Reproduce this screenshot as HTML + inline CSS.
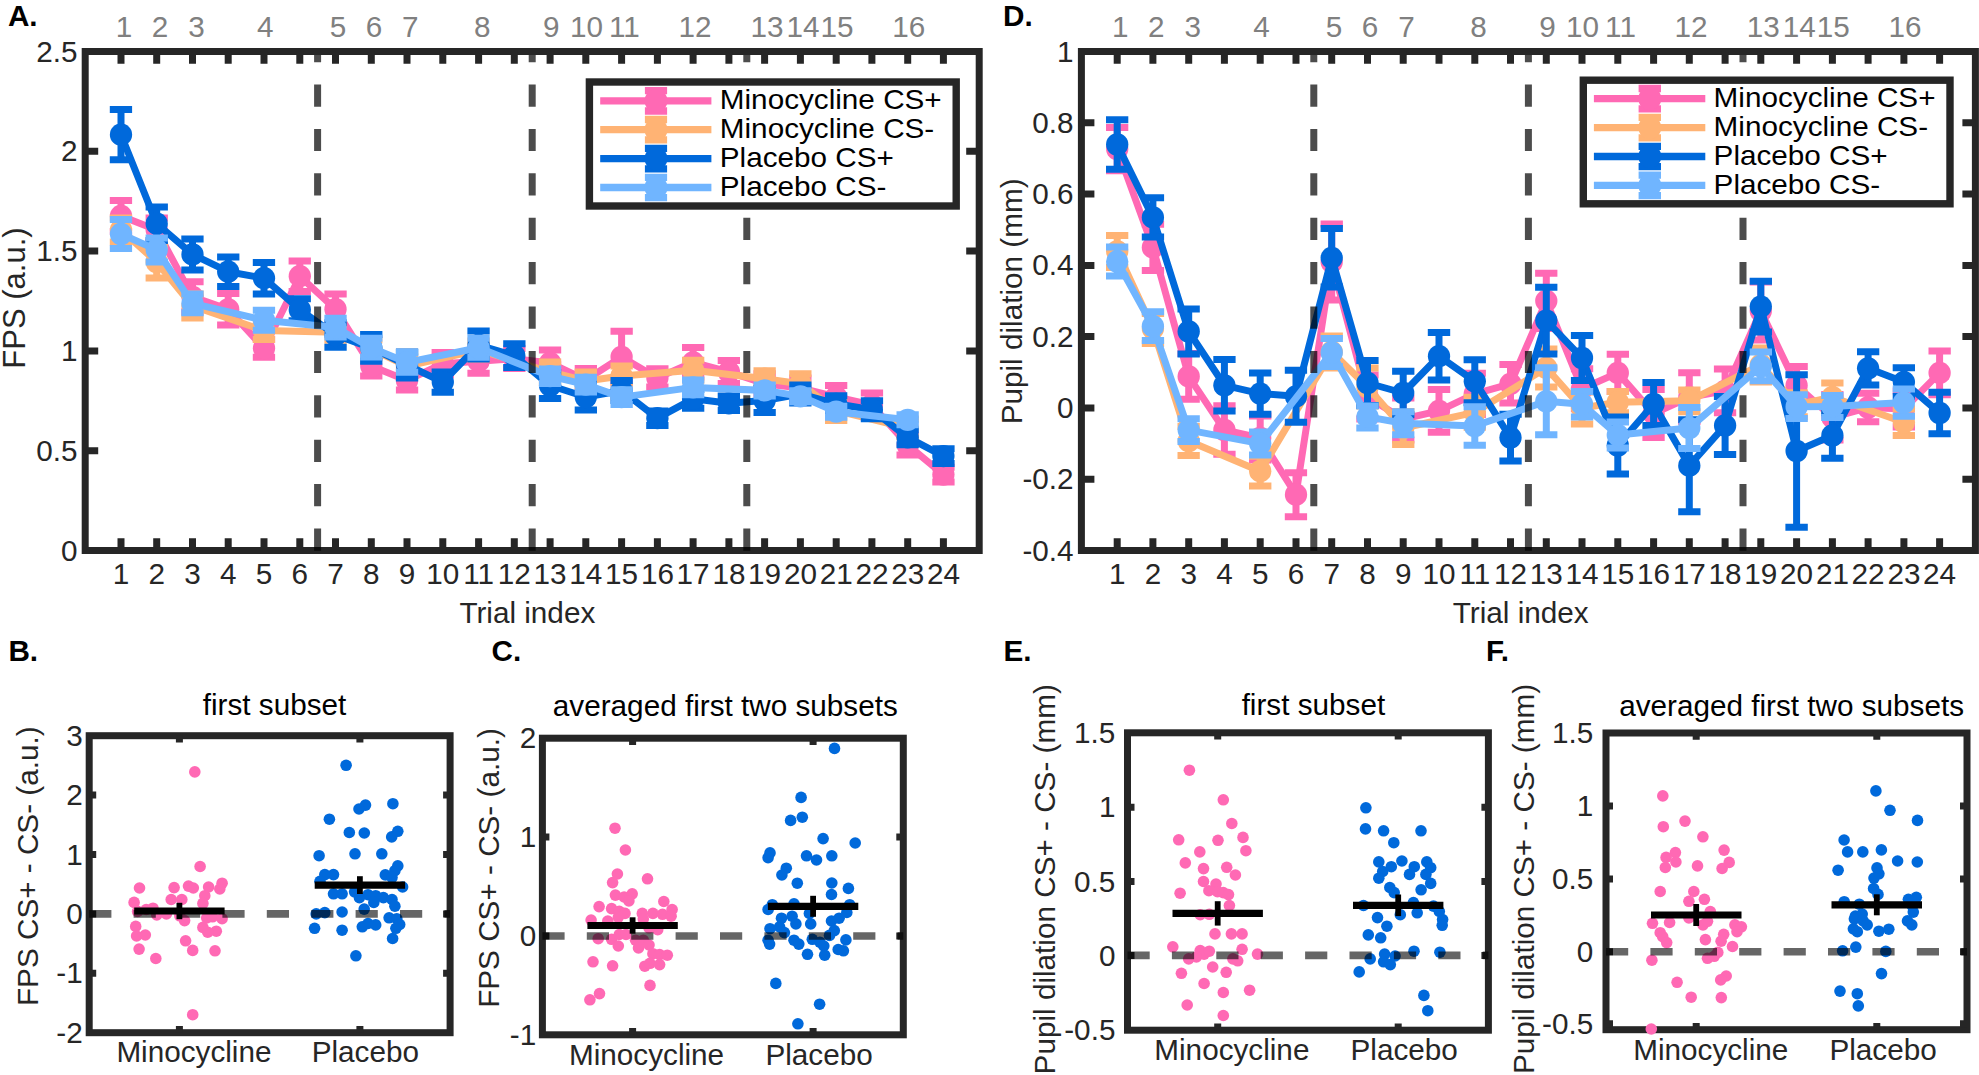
<!DOCTYPE html>
<html lang="en"><head><meta charset="utf-8"><title>Figure</title>
<style>html,body{margin:0;padding:0;background:#fff}svg{display:block}text{font-family:"Liberation Sans",Arial,Helvetica,sans-serif}</style></head><body>
<svg width="1979" height="1075" viewBox="0 0 1979 1075">
<rect width="1979" height="1075" fill="#fff"/>
<g stroke="#ff69b4" fill="#ff69b4">
<path d="M121.0 216.0 L156.7 230.0 L192.5 296.8 L228.2 309.3 L264.0 348.2 L299.8 276.2 L335.5 309.2 L371.3 366.0 L407.0 380.4 L442.8 363.7 L478.6 361.2 L514.3 358.6 L550.1 363.0 L585.8 380.0 L621.6 356.9 L657.4 377.9 L693.1 362.3 L728.9 372.0 L764.6 383.7 L800.4 388.0 L836.2 397.0 L871.9 405.0 L907.7 445.0 L943.4 474.6" fill="none" stroke-width="7.0" stroke-linejoin="round"/>
<path d="M121.0 200.6 V231.4 M109.8 200.6 H132.1 M109.8 231.4 H132.1 M156.7 218.0 V242.0 M145.6 218.0 H167.9 M145.6 242.0 H167.9 M192.5 281.8 V311.8 M181.3 281.8 H203.6 M181.3 311.8 H203.6 M228.2 293.6 V325.0 M217.1 293.6 H239.4 M217.1 325.0 H239.4 M264.0 339.2 V357.2 M252.8 339.2 H275.1 M252.8 357.2 H275.1 M299.8 260.9 V291.5 M288.6 260.9 H310.9 M288.6 291.5 H310.9 M335.5 294.0 V324.4 M324.4 294.0 H346.7 M324.4 324.4 H346.7 M371.3 356.0 V376.0 M360.1 356.0 H382.4 M360.1 376.0 H382.4 M407.0 370.9 V389.9 M395.9 370.9 H418.2 M395.9 389.9 H418.2 M442.8 352.5 V374.9 M431.6 352.5 H453.9 M431.6 374.9 H453.9 M478.6 349.2 V373.2 M467.4 349.2 H489.7 M467.4 373.2 H489.7 M514.3 348.6 V368.6 M503.2 348.6 H525.5 M503.2 368.6 H525.5 M550.1 350.0 V376.0 M538.9 350.0 H561.2 M538.9 376.0 H561.2 M585.8 368.5 V391.5 M574.7 368.5 H597.0 M574.7 391.5 H597.0 M621.6 331.2 V382.6 M610.5 331.2 H632.8 M610.5 382.6 H632.8 M657.4 368.8 V387.0 M646.2 368.8 H668.5 M646.2 387.0 H668.5 M693.1 347.6 V377.0 M682.0 347.6 H704.3 M682.0 377.0 H704.3 M728.9 360.5 V383.5 M717.7 360.5 H740.0 M717.7 383.5 H740.0 M764.6 373.7 V393.7 M753.5 373.7 H775.8 M753.5 393.7 H775.8 M800.4 378.0 V398.0 M789.2 378.0 H811.5 M789.2 398.0 H811.5 M836.2 385.5 V408.5 M825.0 385.5 H847.3 M825.0 408.5 H847.3 M871.9 393.0 V417.0 M860.8 393.0 H883.1 M860.8 417.0 H883.1 M907.7 435.0 V455.0 M896.5 435.0 H918.8 M896.5 455.0 H918.8 M943.4 467.3 V481.9 M932.3 467.3 H954.6 M932.3 481.9 H954.6" fill="none" stroke-width="7"/>
<circle cx="121.0" cy="216.0" r="11.15" stroke="none"/>
<circle cx="156.7" cy="230.0" r="11.15" stroke="none"/>
<circle cx="192.5" cy="296.8" r="11.15" stroke="none"/>
<circle cx="228.2" cy="309.3" r="11.15" stroke="none"/>
<circle cx="264.0" cy="348.2" r="11.15" stroke="none"/>
<circle cx="299.8" cy="276.2" r="11.15" stroke="none"/>
<circle cx="335.5" cy="309.2" r="11.15" stroke="none"/>
<circle cx="371.3" cy="366.0" r="11.15" stroke="none"/>
<circle cx="407.0" cy="380.4" r="11.15" stroke="none"/>
<circle cx="442.8" cy="363.7" r="11.15" stroke="none"/>
<circle cx="478.6" cy="361.2" r="11.15" stroke="none"/>
<circle cx="514.3" cy="358.6" r="11.15" stroke="none"/>
<circle cx="550.1" cy="363.0" r="11.15" stroke="none"/>
<circle cx="585.8" cy="380.0" r="11.15" stroke="none"/>
<circle cx="621.6" cy="356.9" r="11.15" stroke="none"/>
<circle cx="657.4" cy="377.9" r="11.15" stroke="none"/>
<circle cx="693.1" cy="362.3" r="11.15" stroke="none"/>
<circle cx="728.9" cy="372.0" r="11.15" stroke="none"/>
<circle cx="764.6" cy="383.7" r="11.15" stroke="none"/>
<circle cx="800.4" cy="388.0" r="11.15" stroke="none"/>
<circle cx="836.2" cy="397.0" r="11.15" stroke="none"/>
<circle cx="871.9" cy="405.0" r="11.15" stroke="none"/>
<circle cx="907.7" cy="445.0" r="11.15" stroke="none"/>
<circle cx="943.4" cy="474.6" r="11.15" stroke="none"/>
</g>
<g stroke="#ffb374" fill="#ffb374">
<path d="M121.0 230.0 L156.7 262.0 L192.5 306.0 L264.0 330.6 L335.5 332.3 L371.3 349.0 L407.0 366.0 L478.6 350.0 L550.1 372.0 L585.8 381.0 L621.6 376.0 L693.1 370.3 L764.6 378.7 L800.4 383.7 L836.2 410.5 L907.7 428.0" fill="none" stroke-width="7.0" stroke-linejoin="round"/>
<path d="M121.0 218.0 V242.0 M109.8 218.0 H132.1 M109.8 242.0 H132.1 M156.7 246.0 V278.0 M145.6 246.0 H167.9 M145.6 278.0 H167.9 M192.5 294.0 V318.0 M181.3 294.0 H203.6 M181.3 318.0 H203.6 M264.0 321.6 V339.6 M252.8 321.6 H275.1 M252.8 339.6 H275.1 M335.5 324.3 V340.3 M324.4 324.3 H346.7 M324.4 340.3 H346.7 M371.3 340.0 V358.0 M360.1 340.0 H382.4 M360.1 358.0 H382.4 M407.0 357.0 V375.0 M395.9 357.0 H418.2 M395.9 375.0 H418.2 M478.6 341.0 V359.0 M467.4 341.0 H489.7 M467.4 359.0 H489.7 M550.1 362.0 V382.0 M538.9 362.0 H561.2 M538.9 382.0 H561.2 M585.8 372.0 V390.0 M574.7 372.0 H597.0 M574.7 390.0 H597.0 M621.6 366.0 V386.0 M610.5 366.0 H632.8 M610.5 386.0 H632.8 M693.1 360.3 V380.3 M682.0 360.3 H704.3 M682.0 380.3 H704.3 M764.6 370.7 V386.7 M753.5 370.7 H775.8 M753.5 386.7 H775.8 M800.4 373.7 V393.7 M789.2 373.7 H811.5 M789.2 393.7 H811.5 M836.2 400.5 V420.5 M825.0 400.5 H847.3 M825.0 420.5 H847.3 M907.7 419.0 V437.0 M896.5 419.0 H918.8 M896.5 437.0 H918.8" fill="none" stroke-width="7"/>
<circle cx="121.0" cy="230.0" r="11.15" stroke="none"/>
<circle cx="156.7" cy="262.0" r="11.15" stroke="none"/>
<circle cx="192.5" cy="306.0" r="11.15" stroke="none"/>
<circle cx="264.0" cy="330.6" r="11.15" stroke="none"/>
<circle cx="335.5" cy="332.3" r="11.15" stroke="none"/>
<circle cx="371.3" cy="349.0" r="11.15" stroke="none"/>
<circle cx="407.0" cy="366.0" r="11.15" stroke="none"/>
<circle cx="478.6" cy="350.0" r="11.15" stroke="none"/>
<circle cx="550.1" cy="372.0" r="11.15" stroke="none"/>
<circle cx="585.8" cy="381.0" r="11.15" stroke="none"/>
<circle cx="621.6" cy="376.0" r="11.15" stroke="none"/>
<circle cx="693.1" cy="370.3" r="11.15" stroke="none"/>
<circle cx="764.6" cy="378.7" r="11.15" stroke="none"/>
<circle cx="800.4" cy="383.7" r="11.15" stroke="none"/>
<circle cx="836.2" cy="410.5" r="11.15" stroke="none"/>
<circle cx="907.7" cy="428.0" r="11.15" stroke="none"/>
</g>
<g stroke="#0069db" fill="#0069db">
<path d="M121.0 134.7 L156.7 223.7 L192.5 254.4 L228.2 271.7 L264.0 278.2 L299.8 309.7 L335.5 335.0 L371.3 347.9 L407.0 365.0 L442.8 382.1 L478.6 345.0 L514.3 355.7 L550.1 385.5 L585.8 397.0 L621.6 390.6 L657.4 418.2 L693.1 398.8 L728.9 403.3 L764.6 400.5 L800.4 394.0 L836.2 403.8 L871.9 409.7 L907.7 437.4 L943.4 456.1" fill="none" stroke-width="7.0" stroke-linejoin="round"/>
<path d="M121.0 109.6 V159.8 M109.8 109.6 H132.1 M109.8 159.8 H132.1 M156.7 206.9 V240.5 M145.6 206.9 H167.9 M145.6 240.5 H167.9 M192.5 238.9 V269.9 M181.3 238.9 H203.6 M181.3 269.9 H203.6 M228.2 257.0 V286.4 M217.1 257.0 H239.4 M217.1 286.4 H239.4 M264.0 262.5 V293.9 M252.8 262.5 H275.1 M252.8 293.9 H275.1 M299.8 298.7 V320.7 M288.6 298.7 H310.9 M288.6 320.7 H310.9 M335.5 322.8 V347.2 M324.4 322.8 H346.7 M324.4 347.2 H346.7 M371.3 334.5 V361.3 M360.1 334.5 H382.4 M360.1 361.3 H382.4 M407.0 352.0 V378.0 M395.9 352.0 H418.2 M395.9 378.0 H418.2 M442.8 372.0 V392.2 M431.6 372.0 H453.9 M431.6 392.2 H453.9 M478.6 331.0 V359.0 M467.4 331.0 H489.7 M467.4 359.0 H489.7 M514.3 343.8 V367.6 M503.2 343.8 H525.5 M503.2 367.6 H525.5 M550.1 372.5 V398.5 M538.9 372.5 H561.2 M538.9 398.5 H561.2 M585.8 384.0 V410.0 M574.7 384.0 H597.0 M574.7 410.0 H597.0 M621.6 380.6 V400.6 M610.5 380.6 H632.8 M610.5 400.6 H632.8 M657.4 410.9 V425.5 M646.2 410.9 H668.5 M646.2 425.5 H668.5 M693.1 389.4 V408.2 M682.0 389.4 H704.3 M682.0 408.2 H704.3 M728.9 396.0 V410.6 M717.7 396.0 H740.0 M717.7 410.6 H740.0 M764.6 388.5 V412.5 M753.5 388.5 H775.8 M753.5 412.5 H775.8 M800.4 385.0 V403.0 M789.2 385.0 H811.5 M789.2 403.0 H811.5 M836.2 395.8 V411.8 M825.0 395.8 H847.3 M825.0 411.8 H847.3 M871.9 400.7 V418.7 M860.8 400.7 H883.1 M860.8 418.7 H883.1 M907.7 430.1 V444.7 M896.5 430.1 H918.8 M896.5 444.7 H918.8 M943.4 448.8 V463.4 M932.3 448.8 H954.6 M932.3 463.4 H954.6" fill="none" stroke-width="7"/>
<circle cx="121.0" cy="134.7" r="11.15" stroke="none"/>
<circle cx="156.7" cy="223.7" r="11.15" stroke="none"/>
<circle cx="192.5" cy="254.4" r="11.15" stroke="none"/>
<circle cx="228.2" cy="271.7" r="11.15" stroke="none"/>
<circle cx="264.0" cy="278.2" r="11.15" stroke="none"/>
<circle cx="299.8" cy="309.7" r="11.15" stroke="none"/>
<circle cx="335.5" cy="335.0" r="11.15" stroke="none"/>
<circle cx="371.3" cy="347.9" r="11.15" stroke="none"/>
<circle cx="407.0" cy="365.0" r="11.15" stroke="none"/>
<circle cx="442.8" cy="382.1" r="11.15" stroke="none"/>
<circle cx="478.6" cy="345.0" r="11.15" stroke="none"/>
<circle cx="514.3" cy="355.7" r="11.15" stroke="none"/>
<circle cx="550.1" cy="385.5" r="11.15" stroke="none"/>
<circle cx="585.8" cy="397.0" r="11.15" stroke="none"/>
<circle cx="621.6" cy="390.6" r="11.15" stroke="none"/>
<circle cx="657.4" cy="418.2" r="11.15" stroke="none"/>
<circle cx="693.1" cy="398.8" r="11.15" stroke="none"/>
<circle cx="728.9" cy="403.3" r="11.15" stroke="none"/>
<circle cx="764.6" cy="400.5" r="11.15" stroke="none"/>
<circle cx="800.4" cy="394.0" r="11.15" stroke="none"/>
<circle cx="836.2" cy="403.8" r="11.15" stroke="none"/>
<circle cx="871.9" cy="409.7" r="11.15" stroke="none"/>
<circle cx="907.7" cy="437.4" r="11.15" stroke="none"/>
<circle cx="943.4" cy="456.1" r="11.15" stroke="none"/>
</g>
<g stroke="#70b5ff" fill="#70b5ff">
<path d="M121.0 234.0 L156.7 249.9 L192.5 303.4 L264.0 320.2 L335.5 327.6 L371.3 347.7 L407.0 362.4 L478.6 347.8 L550.1 376.2 L585.8 384.6 L621.6 397.1 L693.1 387.4 L764.6 390.4 L800.4 396.3 L836.2 411.7 L907.7 419.8" fill="none" stroke-width="7.0" stroke-linejoin="round"/>
<path d="M121.0 219.5 V248.5 M109.8 219.5 H132.1 M109.8 248.5 H132.1 M156.7 237.9 V261.9 M145.6 237.9 H167.9 M145.6 261.9 H167.9 M192.5 294.0 V312.8 M181.3 294.0 H203.6 M181.3 312.8 H203.6 M264.0 310.2 V330.2 M252.8 310.2 H275.1 M252.8 330.2 H275.1 M335.5 318.2 V337.0 M324.4 318.2 H346.7 M324.4 337.0 H346.7 M371.3 338.3 V357.1 M360.1 338.3 H382.4 M360.1 357.1 H382.4 M407.0 352.5 V372.3 M395.9 352.5 H418.2 M395.9 372.3 H418.2 M478.6 338.3 V357.3 M467.4 338.3 H489.7 M467.4 357.3 H489.7 M550.1 368.9 V383.5 M538.9 368.9 H561.2 M538.9 383.5 H561.2 M585.8 377.3 V391.9 M574.7 377.3 H597.0 M574.7 391.9 H597.0 M621.6 389.8 V404.4 M610.5 389.8 H632.8 M610.5 404.4 H632.8 M693.1 380.1 V394.7 M682.0 380.1 H704.3 M682.0 394.7 H704.3 M764.6 384.9 V395.9 M753.5 384.9 H775.8 M753.5 395.9 H775.8 M800.4 390.8 V401.8 M789.2 390.8 H811.5 M789.2 401.8 H811.5 M836.2 406.2 V417.2 M825.0 406.2 H847.3 M825.0 417.2 H847.3 M907.7 414.8 V424.8 M896.5 414.8 H918.8 M896.5 424.8 H918.8" fill="none" stroke-width="7"/>
<circle cx="121.0" cy="234.0" r="11.15" stroke="none"/>
<circle cx="156.7" cy="249.9" r="11.15" stroke="none"/>
<circle cx="192.5" cy="303.4" r="11.15" stroke="none"/>
<circle cx="264.0" cy="320.2" r="11.15" stroke="none"/>
<circle cx="335.5" cy="327.6" r="11.15" stroke="none"/>
<circle cx="371.3" cy="347.7" r="11.15" stroke="none"/>
<circle cx="407.0" cy="362.4" r="11.15" stroke="none"/>
<circle cx="478.6" cy="347.8" r="11.15" stroke="none"/>
<circle cx="550.1" cy="376.2" r="11.15" stroke="none"/>
<circle cx="585.8" cy="384.6" r="11.15" stroke="none"/>
<circle cx="621.6" cy="397.1" r="11.15" stroke="none"/>
<circle cx="693.1" cy="387.4" r="11.15" stroke="none"/>
<circle cx="764.6" cy="390.4" r="11.15" stroke="none"/>
<circle cx="800.4" cy="396.3" r="11.15" stroke="none"/>
<circle cx="836.2" cy="411.7" r="11.15" stroke="none"/>
<circle cx="907.7" cy="419.8" r="11.15" stroke="none"/>
</g>
<g stroke="#262626" stroke-width="7" fill="none">
<rect x="85.2" y="51.5" width="894.0" height="499.0"/>
<path d="M121.0 51.5 v12.3 M121.0 550.5 v-12.3 M156.7 51.5 v12.3 M156.7 550.5 v-12.3 M192.5 51.5 v12.3 M192.5 550.5 v-12.3 M228.2 51.5 v12.3 M228.2 550.5 v-12.3 M264.0 51.5 v12.3 M264.0 550.5 v-12.3 M299.8 51.5 v12.3 M299.8 550.5 v-12.3 M335.5 51.5 v12.3 M335.5 550.5 v-12.3 M371.3 51.5 v12.3 M371.3 550.5 v-12.3 M407.0 51.5 v12.3 M407.0 550.5 v-12.3 M442.8 51.5 v12.3 M442.8 550.5 v-12.3 M478.6 51.5 v12.3 M478.6 550.5 v-12.3 M514.3 51.5 v12.3 M514.3 550.5 v-12.3 M550.1 51.5 v12.3 M550.1 550.5 v-12.3 M585.8 51.5 v12.3 M585.8 550.5 v-12.3 M621.6 51.5 v12.3 M621.6 550.5 v-12.3 M657.4 51.5 v12.3 M657.4 550.5 v-12.3 M693.1 51.5 v12.3 M693.1 550.5 v-12.3 M728.9 51.5 v12.3 M728.9 550.5 v-12.3 M764.6 51.5 v12.3 M764.6 550.5 v-12.3 M800.4 51.5 v12.3 M800.4 550.5 v-12.3 M836.2 51.5 v12.3 M836.2 550.5 v-12.3 M871.9 51.5 v12.3 M871.9 550.5 v-12.3 M907.7 51.5 v12.3 M907.7 550.5 v-12.3 M943.4 51.5 v12.3 M943.4 550.5 v-12.3 M85.2 151.3 h13 M979.2 151.3 h-13 M85.2 251.1 h13 M979.2 251.1 h-13 M85.2 350.9 h13 M979.2 350.9 h-13 M85.2 450.7 h13 M979.2 450.7 h-13"/>
</g>
<g font-size="29.7" fill="#262626">
<text x="77.6" y="61.5" text-anchor="end">2.5</text>
<text x="77.6" y="161.3" text-anchor="end">2</text>
<text x="77.6" y="261.1" text-anchor="end">1.5</text>
<text x="77.6" y="360.9" text-anchor="end">1</text>
<text x="77.6" y="460.7" text-anchor="end">0.5</text>
<text x="77.6" y="560.5" text-anchor="end">0</text>
<text x="121.0" y="584.1" text-anchor="middle">1</text>
<text x="156.7" y="584.1" text-anchor="middle">2</text>
<text x="192.5" y="584.1" text-anchor="middle">3</text>
<text x="228.2" y="584.1" text-anchor="middle">4</text>
<text x="264.0" y="584.1" text-anchor="middle">5</text>
<text x="299.8" y="584.1" text-anchor="middle">6</text>
<text x="335.5" y="584.1" text-anchor="middle">7</text>
<text x="371.3" y="584.1" text-anchor="middle">8</text>
<text x="407.0" y="584.1" text-anchor="middle">9</text>
<text x="442.8" y="584.1" text-anchor="middle">10</text>
<text x="478.6" y="584.1" text-anchor="middle">11</text>
<text x="514.3" y="584.1" text-anchor="middle">12</text>
<text x="550.1" y="584.1" text-anchor="middle">13</text>
<text x="585.8" y="584.1" text-anchor="middle">14</text>
<text x="621.6" y="584.1" text-anchor="middle">15</text>
<text x="657.4" y="584.1" text-anchor="middle">16</text>
<text x="693.1" y="584.1" text-anchor="middle">17</text>
<text x="728.9" y="584.1" text-anchor="middle">18</text>
<text x="764.6" y="584.1" text-anchor="middle">19</text>
<text x="800.4" y="584.1" text-anchor="middle">20</text>
<text x="836.2" y="584.1" text-anchor="middle">21</text>
<text x="871.9" y="584.1" text-anchor="middle">22</text>
<text x="907.7" y="584.1" text-anchor="middle">23</text>
<text x="943.4" y="584.1" text-anchor="middle">24</text>
<text x="459.4" y="623.1">Trial index</text>
<text transform="translate(25.1 298) rotate(-90)" text-anchor="middle" font-size="31">FPS (a.u.)</text>
</g>
<g font-size="29.7" fill="#808080">
<text x="124.0" y="37.2" text-anchor="middle">1</text>
<text x="160.0" y="37.2" text-anchor="middle">2</text>
<text x="196.5" y="37.2" text-anchor="middle">3</text>
<text x="265.2" y="37.2" text-anchor="middle">4</text>
<text x="337.9" y="37.2" text-anchor="middle">5</text>
<text x="373.9" y="37.2" text-anchor="middle">6</text>
<text x="410.3" y="37.2" text-anchor="middle">7</text>
<text x="482.3" y="37.2" text-anchor="middle">8</text>
<text x="551.3" y="37.2" text-anchor="middle">9</text>
<text x="586.4" y="37.2" text-anchor="middle">10</text>
<text x="624.3" y="37.2" text-anchor="middle">11</text>
<text x="694.9" y="37.2" text-anchor="middle">12</text>
<text x="767.0" y="37.2" text-anchor="middle">13</text>
<text x="803.1" y="37.2" text-anchor="middle">14</text>
<text x="837.1" y="37.2" text-anchor="middle">15</text>
<text x="908.8" y="37.2" text-anchor="middle">16</text>
</g>
<text x="7.9" y="25.5" font-size="29.7" font-weight="bold" fill="#000">A.</text>
<path d="M317.6 550.7 V54.9" stroke="#000" stroke-opacity="0.7" stroke-width="7" stroke-dasharray="22.2 22.2" fill="none"/>
<path d="M532.2 550.7 V54.9" stroke="#000" stroke-opacity="0.7" stroke-width="7" stroke-dasharray="22.2 22.2" fill="none"/>
<path d="M746.8 550.7 V54.9" stroke="#000" stroke-opacity="0.7" stroke-width="7" stroke-dasharray="22.2 22.2" fill="none"/>
<rect x="589.4" y="82" width="366.8" height="124.0" fill="#fff" stroke="#262626" stroke-width="7.4"/>
<g stroke="#ff69b4" fill="#ff69b4" stroke-width="7.3"><path d="M600.2 100.8 H711.4 M656.0 90.6 V111.0 M644.9 90.6 H667.1 M644.9 111.0 H667.1" fill="none"/><circle cx="656.0" cy="100.8" r="11.5" stroke="none"/></g>
<text transform="translate(719.8 109.1) scale(1 0.925)" font-size="29.7" fill="#000">Minocycline CS+</text>
<g stroke="#ffb374" fill="#ffb374" stroke-width="7.3"><path d="M600.2 129.7 H711.4 M656.0 119.5 V139.9 M644.9 119.5 H667.1 M644.9 139.9 H667.1" fill="none"/><circle cx="656.0" cy="129.7" r="11.5" stroke="none"/></g>
<text transform="translate(719.8 138.0) scale(1 0.925)" font-size="29.7" fill="#000">Minocycline CS-</text>
<g stroke="#0069db" fill="#0069db" stroke-width="7.3"><path d="M600.2 158.6 H711.4 M656.0 148.4 V168.8 M644.9 148.4 H667.1 M644.9 168.8 H667.1" fill="none"/><circle cx="656.0" cy="158.6" r="11.5" stroke="none"/></g>
<text transform="translate(719.8 166.9) scale(1 0.925)" font-size="29.7" fill="#000">Placebo CS+</text>
<g stroke="#70b5ff" fill="#70b5ff" stroke-width="7.3"><path d="M600.2 187.5 H711.4 M656.0 177.3 V197.7 M644.9 177.3 H667.1 M644.9 197.7 H667.1" fill="none"/><circle cx="656.0" cy="187.5" r="11.5" stroke="none"/></g>
<text transform="translate(719.8 195.8) scale(1 0.925)" font-size="29.7" fill="#000">Placebo CS-</text>
<g stroke="#ff69b4" fill="#ff69b4">
<path d="M1117.2 149.1 L1152.9 247.4 L1188.7 376.4 L1224.4 430.0 L1260.2 438.0 L1296.0 494.7 L1331.7 262.0 L1367.5 397.0 L1403.2 419.0 L1439.0 410.8 L1474.8 393.8 L1510.5 383.8 L1546.3 300.8 L1582.0 388.8 L1617.8 372.9 L1653.6 413.6 L1689.3 397.2 L1725.1 390.9 L1760.8 311.0 L1796.6 385.5 L1832.4 417.3 L1868.1 407.5 L1903.9 409.0 L1939.6 372.9" fill="none" stroke-width="7.0" stroke-linejoin="round"/>
<path d="M1117.2 127.4 V170.8 M1106.0 127.4 H1128.3 M1106.0 170.8 H1128.3 M1152.9 224.2 V270.6 M1141.8 224.2 H1164.1 M1141.8 270.6 H1164.1 M1188.7 353.5 V399.3 M1177.5 353.5 H1199.8 M1177.5 399.3 H1199.8 M1224.4 405.8 V454.2 M1213.3 405.8 H1235.6 M1213.3 454.2 H1235.6 M1260.2 416.0 V460.0 M1249.0 416.0 H1271.4 M1249.0 460.0 H1271.4 M1296.0 472.7 V516.7 M1284.8 472.7 H1307.1 M1284.8 516.7 H1307.1 M1331.7 224.0 V300.0 M1320.6 224.0 H1342.9 M1320.6 300.0 H1342.9 M1367.5 375.0 V419.0 M1356.3 375.0 H1378.6 M1356.3 419.0 H1378.6 M1403.2 398.0 V440.0 M1392.1 398.0 H1414.4 M1392.1 440.0 H1414.4 M1439.0 389.4 V432.2 M1427.8 389.4 H1450.2 M1427.8 432.2 H1450.2 M1474.8 373.2 V414.4 M1463.6 373.2 H1485.9 M1463.6 414.4 H1485.9 M1510.5 364.5 V403.1 M1499.4 364.5 H1521.7 M1499.4 403.1 H1521.7 M1546.3 273.2 V328.4 M1535.1 273.2 H1557.4 M1535.1 328.4 H1557.4 M1582.0 368.8 V408.8 M1570.9 368.8 H1593.2 M1570.9 408.8 H1593.2 M1617.8 354.3 V391.5 M1606.7 354.3 H1629.0 M1606.7 391.5 H1629.0 M1653.6 389.6 V437.6 M1642.4 389.6 H1664.7 M1642.4 437.6 H1664.7 M1689.3 372.8 V421.6 M1678.2 372.8 H1700.5 M1678.2 421.6 H1700.5 M1725.1 369.0 V412.8 M1713.9 369.0 H1736.2 M1713.9 412.8 H1736.2 M1760.8 282.0 V340.0 M1749.7 282.0 H1772.0 M1749.7 340.0 H1772.0 M1796.6 366.5 V404.5 M1785.4 366.5 H1807.8 M1785.4 404.5 H1807.8 M1832.4 394.5 V440.1 M1821.2 394.5 H1843.5 M1821.2 440.1 H1843.5 M1868.1 393.3 V421.7 M1857.0 393.3 H1879.3 M1857.0 421.7 H1879.3 M1903.9 391.0 V427.0 M1892.7 391.0 H1915.0 M1892.7 427.0 H1915.0 M1939.6 351.1 V394.7 M1928.5 351.1 H1950.8 M1928.5 394.7 H1950.8" fill="none" stroke-width="7"/>
<circle cx="1117.2" cy="149.1" r="11.15" stroke="none"/>
<circle cx="1152.9" cy="247.4" r="11.15" stroke="none"/>
<circle cx="1188.7" cy="376.4" r="11.15" stroke="none"/>
<circle cx="1224.4" cy="430.0" r="11.15" stroke="none"/>
<circle cx="1260.2" cy="438.0" r="11.15" stroke="none"/>
<circle cx="1296.0" cy="494.7" r="11.15" stroke="none"/>
<circle cx="1331.7" cy="262.0" r="11.15" stroke="none"/>
<circle cx="1367.5" cy="397.0" r="11.15" stroke="none"/>
<circle cx="1403.2" cy="419.0" r="11.15" stroke="none"/>
<circle cx="1439.0" cy="410.8" r="11.15" stroke="none"/>
<circle cx="1474.8" cy="393.8" r="11.15" stroke="none"/>
<circle cx="1510.5" cy="383.8" r="11.15" stroke="none"/>
<circle cx="1546.3" cy="300.8" r="11.15" stroke="none"/>
<circle cx="1582.0" cy="388.8" r="11.15" stroke="none"/>
<circle cx="1617.8" cy="372.9" r="11.15" stroke="none"/>
<circle cx="1653.6" cy="413.6" r="11.15" stroke="none"/>
<circle cx="1689.3" cy="397.2" r="11.15" stroke="none"/>
<circle cx="1725.1" cy="390.9" r="11.15" stroke="none"/>
<circle cx="1760.8" cy="311.0" r="11.15" stroke="none"/>
<circle cx="1796.6" cy="385.5" r="11.15" stroke="none"/>
<circle cx="1832.4" cy="417.3" r="11.15" stroke="none"/>
<circle cx="1868.1" cy="407.5" r="11.15" stroke="none"/>
<circle cx="1903.9" cy="409.0" r="11.15" stroke="none"/>
<circle cx="1939.6" cy="372.9" r="11.15" stroke="none"/>
</g>
<g stroke="#ffb374" fill="#ffb374">
<path d="M1117.2 251.4 L1152.9 328.5 L1188.7 441.1 L1260.2 471.2 L1331.7 352.0 L1367.5 387.0 L1403.2 428.0 L1474.8 412.3 L1546.3 367.9 L1582.0 408.0 L1617.8 402.2 L1689.3 400.8 L1760.8 365.0 L1796.6 404.7 L1832.4 397.2 L1903.9 422.3" fill="none" stroke-width="7.0" stroke-linejoin="round"/>
<path d="M1117.2 235.4 V267.4 M1106.0 235.4 H1128.3 M1106.0 267.4 H1128.3 M1152.9 313.5 V343.5 M1141.8 313.5 H1164.1 M1141.8 343.5 H1164.1 M1188.7 426.6 V455.6 M1177.5 426.6 H1199.8 M1177.5 455.6 H1199.8 M1260.2 456.3 V486.1 M1249.0 456.3 H1271.4 M1249.0 486.1 H1271.4 M1331.7 336.0 V368.0 M1320.6 336.0 H1342.9 M1320.6 368.0 H1342.9 M1367.5 368.0 V406.0 M1356.3 368.0 H1378.6 M1356.3 406.0 H1378.6 M1403.2 411.5 V444.5 M1392.1 411.5 H1414.4 M1392.1 444.5 H1414.4 M1474.8 397.3 V427.3 M1463.6 397.3 H1485.9 M1463.6 427.3 H1485.9 M1546.3 348.9 V386.9 M1535.1 348.9 H1557.4 M1535.1 386.9 H1557.4 M1582.0 392.0 V424.0 M1570.9 392.0 H1593.2 M1570.9 424.0 H1593.2 M1617.8 391.6 V412.8 M1606.7 391.6 H1629.0 M1606.7 412.8 H1629.0 M1689.3 389.9 V411.7 M1678.2 389.9 H1700.5 M1678.2 411.7 H1700.5 M1760.8 348.0 V382.0 M1749.7 348.0 H1772.0 M1749.7 382.0 H1772.0 M1796.6 392.7 V416.7 M1785.4 392.7 H1807.8 M1785.4 416.7 H1807.8 M1832.4 382.9 V411.5 M1821.2 382.9 H1843.5 M1821.2 411.5 H1843.5 M1903.9 409.1 V435.5 M1892.7 409.1 H1915.0 M1892.7 435.5 H1915.0" fill="none" stroke-width="7"/>
<circle cx="1117.2" cy="251.4" r="11.15" stroke="none"/>
<circle cx="1152.9" cy="328.5" r="11.15" stroke="none"/>
<circle cx="1188.7" cy="441.1" r="11.15" stroke="none"/>
<circle cx="1260.2" cy="471.2" r="11.15" stroke="none"/>
<circle cx="1331.7" cy="352.0" r="11.15" stroke="none"/>
<circle cx="1367.5" cy="387.0" r="11.15" stroke="none"/>
<circle cx="1403.2" cy="428.0" r="11.15" stroke="none"/>
<circle cx="1474.8" cy="412.3" r="11.15" stroke="none"/>
<circle cx="1546.3" cy="367.9" r="11.15" stroke="none"/>
<circle cx="1582.0" cy="408.0" r="11.15" stroke="none"/>
<circle cx="1617.8" cy="402.2" r="11.15" stroke="none"/>
<circle cx="1689.3" cy="400.8" r="11.15" stroke="none"/>
<circle cx="1760.8" cy="365.0" r="11.15" stroke="none"/>
<circle cx="1796.6" cy="404.7" r="11.15" stroke="none"/>
<circle cx="1832.4" cy="397.2" r="11.15" stroke="none"/>
<circle cx="1903.9" cy="422.3" r="11.15" stroke="none"/>
</g>
<g stroke="#0069db" fill="#0069db">
<path d="M1117.2 144.5 L1152.9 217.4 L1188.7 331.5 L1224.4 385.3 L1260.2 393.6 L1296.0 396.3 L1331.7 257.8 L1367.5 383.0 L1403.2 393.0 L1439.0 356.2 L1474.8 381.3 L1510.5 437.6 L1546.3 320.6 L1582.0 358.0 L1617.8 445.5 L1653.6 404.0 L1689.3 465.7 L1725.1 425.5 L1760.8 306.6 L1796.6 451.0 L1832.4 435.5 L1868.1 368.3 L1903.9 382.1 L1939.6 413.0" fill="none" stroke-width="7.0" stroke-linejoin="round"/>
<path d="M1117.2 119.8 V169.2 M1106.0 119.8 H1128.3 M1106.0 169.2 H1128.3 M1152.9 197.8 V237.0 M1141.8 197.8 H1164.1 M1141.8 237.0 H1164.1 M1188.7 308.9 V354.1 M1177.5 308.9 H1199.8 M1177.5 354.1 H1199.8 M1224.4 359.6 V411.0 M1213.3 359.6 H1235.6 M1213.3 411.0 H1235.6 M1260.2 372.9 V414.3 M1249.0 372.9 H1271.4 M1249.0 414.3 H1271.4 M1296.0 370.3 V422.3 M1284.8 370.3 H1307.1 M1284.8 422.3 H1307.1 M1331.7 228.5 V287.1 M1320.6 228.5 H1342.9 M1320.6 287.1 H1342.9 M1367.5 360.6 V405.4 M1356.3 360.6 H1378.6 M1356.3 405.4 H1378.6 M1403.2 371.2 V414.8 M1392.1 371.2 H1414.4 M1392.1 414.8 H1414.4 M1439.0 332.5 V379.9 M1427.8 332.5 H1450.2 M1427.8 379.9 H1450.2 M1474.8 359.8 V402.8 M1463.6 359.8 H1485.9 M1463.6 402.8 H1485.9 M1510.5 414.2 V461.0 M1499.4 414.2 H1521.7 M1499.4 461.0 H1521.7 M1546.3 287.3 V353.9 M1535.1 287.3 H1557.4 M1535.1 353.9 H1557.4 M1582.0 335.5 V380.5 M1570.9 335.5 H1593.2 M1570.9 380.5 H1593.2 M1617.8 417.1 V473.9 M1606.7 417.1 H1629.0 M1606.7 473.9 H1629.0 M1653.6 382.5 V425.5 M1642.4 382.5 H1664.7 M1642.4 425.5 H1664.7 M1689.3 419.7 V511.7 M1678.2 419.7 H1700.5 M1678.2 511.7 H1700.5 M1725.1 396.5 V454.5 M1713.9 396.5 H1736.2 M1713.9 454.5 H1736.2 M1760.8 281.2 V332.0 M1749.7 281.2 H1772.0 M1749.7 332.0 H1772.0 M1796.6 374.8 V527.2 M1785.4 374.8 H1807.8 M1785.4 527.2 H1807.8 M1832.4 412.8 V458.2 M1821.2 412.8 H1843.5 M1821.2 458.2 H1843.5 M1868.1 351.7 V384.9 M1857.0 351.7 H1879.3 M1857.0 384.9 H1879.3 M1903.9 367.8 V396.4 M1892.7 367.8 H1915.0 M1892.7 396.4 H1915.0 M1939.6 392.2 V433.8 M1928.5 392.2 H1950.8 M1928.5 433.8 H1950.8" fill="none" stroke-width="7"/>
<circle cx="1117.2" cy="144.5" r="11.15" stroke="none"/>
<circle cx="1152.9" cy="217.4" r="11.15" stroke="none"/>
<circle cx="1188.7" cy="331.5" r="11.15" stroke="none"/>
<circle cx="1224.4" cy="385.3" r="11.15" stroke="none"/>
<circle cx="1260.2" cy="393.6" r="11.15" stroke="none"/>
<circle cx="1296.0" cy="396.3" r="11.15" stroke="none"/>
<circle cx="1331.7" cy="257.8" r="11.15" stroke="none"/>
<circle cx="1367.5" cy="383.0" r="11.15" stroke="none"/>
<circle cx="1403.2" cy="393.0" r="11.15" stroke="none"/>
<circle cx="1439.0" cy="356.2" r="11.15" stroke="none"/>
<circle cx="1474.8" cy="381.3" r="11.15" stroke="none"/>
<circle cx="1510.5" cy="437.6" r="11.15" stroke="none"/>
<circle cx="1546.3" cy="320.6" r="11.15" stroke="none"/>
<circle cx="1582.0" cy="358.0" r="11.15" stroke="none"/>
<circle cx="1617.8" cy="445.5" r="11.15" stroke="none"/>
<circle cx="1653.6" cy="404.0" r="11.15" stroke="none"/>
<circle cx="1689.3" cy="465.7" r="11.15" stroke="none"/>
<circle cx="1725.1" cy="425.5" r="11.15" stroke="none"/>
<circle cx="1760.8" cy="306.6" r="11.15" stroke="none"/>
<circle cx="1796.6" cy="451.0" r="11.15" stroke="none"/>
<circle cx="1832.4" cy="435.5" r="11.15" stroke="none"/>
<circle cx="1868.1" cy="368.3" r="11.15" stroke="none"/>
<circle cx="1903.9" cy="382.1" r="11.15" stroke="none"/>
<circle cx="1939.6" cy="413.0" r="11.15" stroke="none"/>
</g>
<g stroke="#70b5ff" fill="#70b5ff">
<path d="M1117.2 261.5 L1152.9 326.2 L1188.7 430.1 L1260.2 443.6 L1331.7 352.5 L1367.5 416.9 L1403.2 423.3 L1474.8 426.0 L1546.3 401.3 L1582.0 404.2 L1617.8 435.1 L1689.3 428.0 L1760.8 366.3 L1796.6 406.7 L1832.4 406.4 L1903.9 402.6" fill="none" stroke-width="7.0" stroke-linejoin="round"/>
<path d="M1117.2 247.1 V275.9 M1106.0 247.1 H1128.3 M1106.0 275.9 H1128.3 M1152.9 311.8 V340.6 M1141.8 311.8 H1164.1 M1141.8 340.6 H1164.1 M1188.7 418.8 V441.4 M1177.5 418.8 H1199.8 M1177.5 441.4 H1199.8 M1260.2 432.1 V455.1 M1249.0 432.1 H1271.4 M1249.0 455.1 H1271.4 M1331.7 338.6 V366.4 M1320.6 338.6 H1342.9 M1320.6 366.4 H1342.9 M1367.5 405.9 V427.9 M1356.3 405.9 H1378.6 M1356.3 427.9 H1378.6 M1403.2 411.8 V434.8 M1392.1 411.8 H1414.4 M1392.1 434.8 H1414.4 M1474.8 406.7 V445.3 M1463.6 406.7 H1485.9 M1463.6 445.3 H1485.9 M1546.3 367.8 V434.8 M1535.1 367.8 H1557.4 M1535.1 434.8 H1557.4 M1582.0 391.5 V416.9 M1570.9 391.5 H1593.2 M1570.9 416.9 H1593.2 M1617.8 422.1 V448.1 M1606.7 422.1 H1629.0 M1606.7 448.1 H1629.0 M1689.3 407.5 V448.5 M1678.2 407.5 H1700.5 M1678.2 448.5 H1700.5 M1760.8 351.9 V380.7 M1749.7 351.9 H1772.0 M1749.7 380.7 H1772.0 M1796.6 394.8 V418.6 M1785.4 394.8 H1807.8 M1785.4 418.6 H1807.8 M1832.4 395.4 V417.4 M1821.2 395.4 H1843.5 M1821.2 417.4 H1843.5 M1903.9 389.0 V416.2 M1892.7 389.0 H1915.0 M1892.7 416.2 H1915.0" fill="none" stroke-width="7"/>
<circle cx="1117.2" cy="261.5" r="11.15" stroke="none"/>
<circle cx="1152.9" cy="326.2" r="11.15" stroke="none"/>
<circle cx="1188.7" cy="430.1" r="11.15" stroke="none"/>
<circle cx="1260.2" cy="443.6" r="11.15" stroke="none"/>
<circle cx="1331.7" cy="352.5" r="11.15" stroke="none"/>
<circle cx="1367.5" cy="416.9" r="11.15" stroke="none"/>
<circle cx="1403.2" cy="423.3" r="11.15" stroke="none"/>
<circle cx="1474.8" cy="426.0" r="11.15" stroke="none"/>
<circle cx="1546.3" cy="401.3" r="11.15" stroke="none"/>
<circle cx="1582.0" cy="404.2" r="11.15" stroke="none"/>
<circle cx="1617.8" cy="435.1" r="11.15" stroke="none"/>
<circle cx="1689.3" cy="428.0" r="11.15" stroke="none"/>
<circle cx="1760.8" cy="366.3" r="11.15" stroke="none"/>
<circle cx="1796.6" cy="406.7" r="11.15" stroke="none"/>
<circle cx="1832.4" cy="406.4" r="11.15" stroke="none"/>
<circle cx="1903.9" cy="402.6" r="11.15" stroke="none"/>
</g>
<g stroke="#262626" stroke-width="7" fill="none">
<rect x="1081.4" y="51.5" width="894.0" height="499.0"/>
<path d="M1117.2 51.5 v12.3 M1117.2 550.5 v-12.3 M1152.9 51.5 v12.3 M1152.9 550.5 v-12.3 M1188.7 51.5 v12.3 M1188.7 550.5 v-12.3 M1224.4 51.5 v12.3 M1224.4 550.5 v-12.3 M1260.2 51.5 v12.3 M1260.2 550.5 v-12.3 M1296.0 51.5 v12.3 M1296.0 550.5 v-12.3 M1331.7 51.5 v12.3 M1331.7 550.5 v-12.3 M1367.5 51.5 v12.3 M1367.5 550.5 v-12.3 M1403.2 51.5 v12.3 M1403.2 550.5 v-12.3 M1439.0 51.5 v12.3 M1439.0 550.5 v-12.3 M1474.8 51.5 v12.3 M1474.8 550.5 v-12.3 M1510.5 51.5 v12.3 M1510.5 550.5 v-12.3 M1546.3 51.5 v12.3 M1546.3 550.5 v-12.3 M1582.0 51.5 v12.3 M1582.0 550.5 v-12.3 M1617.8 51.5 v12.3 M1617.8 550.5 v-12.3 M1653.6 51.5 v12.3 M1653.6 550.5 v-12.3 M1689.3 51.5 v12.3 M1689.3 550.5 v-12.3 M1725.1 51.5 v12.3 M1725.1 550.5 v-12.3 M1760.8 51.5 v12.3 M1760.8 550.5 v-12.3 M1796.6 51.5 v12.3 M1796.6 550.5 v-12.3 M1832.4 51.5 v12.3 M1832.4 550.5 v-12.3 M1868.1 51.5 v12.3 M1868.1 550.5 v-12.3 M1903.9 51.5 v12.3 M1903.9 550.5 v-12.3 M1939.6 51.5 v12.3 M1939.6 550.5 v-12.3 M1081.4 122.8 h13 M1975.4 122.8 h-13 M1081.4 194.1 h13 M1975.4 194.1 h-13 M1081.4 265.4 h13 M1975.4 265.4 h-13 M1081.4 336.6 h13 M1975.4 336.6 h-13 M1081.4 407.9 h13 M1975.4 407.9 h-13 M1081.4 479.2 h13 M1975.4 479.2 h-13"/>
</g>
<g font-size="29.7" fill="#262626">
<text x="1073.6" y="61.5" text-anchor="end">1</text>
<text x="1073.6" y="132.8" text-anchor="end">0.8</text>
<text x="1073.6" y="204.1" text-anchor="end">0.6</text>
<text x="1073.6" y="275.4" text-anchor="end">0.4</text>
<text x="1073.6" y="346.6" text-anchor="end">0.2</text>
<text x="1073.6" y="417.9" text-anchor="end">0</text>
<text x="1073.6" y="489.2" text-anchor="end">-0.2</text>
<text x="1073.6" y="560.5" text-anchor="end">-0.4</text>
<text x="1117.2" y="584.1" text-anchor="middle">1</text>
<text x="1152.9" y="584.1" text-anchor="middle">2</text>
<text x="1188.7" y="584.1" text-anchor="middle">3</text>
<text x="1224.4" y="584.1" text-anchor="middle">4</text>
<text x="1260.2" y="584.1" text-anchor="middle">5</text>
<text x="1296.0" y="584.1" text-anchor="middle">6</text>
<text x="1331.7" y="584.1" text-anchor="middle">7</text>
<text x="1367.5" y="584.1" text-anchor="middle">8</text>
<text x="1403.2" y="584.1" text-anchor="middle">9</text>
<text x="1439.0" y="584.1" text-anchor="middle">10</text>
<text x="1474.8" y="584.1" text-anchor="middle">11</text>
<text x="1510.5" y="584.1" text-anchor="middle">12</text>
<text x="1546.3" y="584.1" text-anchor="middle">13</text>
<text x="1582.0" y="584.1" text-anchor="middle">14</text>
<text x="1617.8" y="584.1" text-anchor="middle">15</text>
<text x="1653.6" y="584.1" text-anchor="middle">16</text>
<text x="1689.3" y="584.1" text-anchor="middle">17</text>
<text x="1725.1" y="584.1" text-anchor="middle">18</text>
<text x="1760.8" y="584.1" text-anchor="middle">19</text>
<text x="1796.6" y="584.1" text-anchor="middle">20</text>
<text x="1832.4" y="584.1" text-anchor="middle">21</text>
<text x="1868.1" y="584.1" text-anchor="middle">22</text>
<text x="1903.9" y="584.1" text-anchor="middle">23</text>
<text x="1939.6" y="584.1" text-anchor="middle">24</text>
<text x="1452.8" y="623.1">Trial index</text>
<text transform="translate(1021.8 301.4) rotate(-90)" text-anchor="middle" font-size="29.7">Pupil dilation (mm)</text>
</g>
<g font-size="29.7" fill="#808080">
<text x="1120.2" y="37.2" text-anchor="middle">1</text>
<text x="1156.2" y="37.2" text-anchor="middle">2</text>
<text x="1192.7" y="37.2" text-anchor="middle">3</text>
<text x="1261.4" y="37.2" text-anchor="middle">4</text>
<text x="1334.1" y="37.2" text-anchor="middle">5</text>
<text x="1370.1" y="37.2" text-anchor="middle">6</text>
<text x="1406.5" y="37.2" text-anchor="middle">7</text>
<text x="1478.5" y="37.2" text-anchor="middle">8</text>
<text x="1547.5" y="37.2" text-anchor="middle">9</text>
<text x="1582.6" y="37.2" text-anchor="middle">10</text>
<text x="1620.5" y="37.2" text-anchor="middle">11</text>
<text x="1691.1" y="37.2" text-anchor="middle">12</text>
<text x="1763.2" y="37.2" text-anchor="middle">13</text>
<text x="1799.3" y="37.2" text-anchor="middle">14</text>
<text x="1833.3" y="37.2" text-anchor="middle">15</text>
<text x="1905.0" y="37.2" text-anchor="middle">16</text>
</g>
<text x="1003" y="25.5" font-size="29.7" font-weight="bold" fill="#000">D.</text>
<path d="M1313.8 550.7 V54.9" stroke="#000" stroke-opacity="0.7" stroke-width="7" stroke-dasharray="22.2 22.2" fill="none"/>
<path d="M1528.4 550.7 V54.9" stroke="#000" stroke-opacity="0.7" stroke-width="7" stroke-dasharray="22.2 22.2" fill="none"/>
<path d="M1743.0 550.7 V54.9" stroke="#000" stroke-opacity="0.7" stroke-width="7" stroke-dasharray="22.2 22.2" fill="none"/>
<rect x="1583.3" y="80.2" width="366.7" height="123.6" fill="#fff" stroke="#262626" stroke-width="7.4"/>
<g stroke="#ff69b4" fill="#ff69b4" stroke-width="7.3"><path d="M1593.9 98.7 H1705.3 M1649.8 88.5 V108.9 M1638.6 88.5 H1661.0 M1638.6 108.9 H1661.0" fill="none"/><circle cx="1649.8" cy="98.7" r="11.5" stroke="none"/></g>
<text transform="translate(1713.6 107.0) scale(1 0.925)" font-size="29.7" fill="#000">Minocycline CS+</text>
<g stroke="#ffb374" fill="#ffb374" stroke-width="7.3"><path d="M1593.9 127.6 H1705.3 M1649.8 117.4 V137.8 M1638.6 117.4 H1661.0 M1638.6 137.8 H1661.0" fill="none"/><circle cx="1649.8" cy="127.6" r="11.5" stroke="none"/></g>
<text transform="translate(1713.6 135.9) scale(1 0.925)" font-size="29.7" fill="#000">Minocycline CS-</text>
<g stroke="#0069db" fill="#0069db" stroke-width="7.3"><path d="M1593.9 156.5 H1705.3 M1649.8 146.3 V166.7 M1638.6 146.3 H1661.0 M1638.6 166.7 H1661.0" fill="none"/><circle cx="1649.8" cy="156.5" r="11.5" stroke="none"/></g>
<text transform="translate(1713.6 164.8) scale(1 0.925)" font-size="29.7" fill="#000">Placebo CS+</text>
<g stroke="#70b5ff" fill="#70b5ff" stroke-width="7.3"><path d="M1593.9 185.4 H1705.3 M1649.8 175.2 V195.6 M1638.6 175.2 H1661.0 M1638.6 195.6 H1661.0" fill="none"/><circle cx="1649.8" cy="185.4" r="11.5" stroke="none"/></g>
<text transform="translate(1713.6 193.7) scale(1 0.925)" font-size="29.7" fill="#000">Placebo CS-</text>
<g fill="#ff69b4"><circle cx="194.8" cy="771.9" r="5.8"/><circle cx="200.1" cy="866.5" r="5.8"/><circle cx="139.5" cy="888.0" r="5.8"/><circle cx="174.1" cy="887.6" r="5.8"/><circle cx="188.5" cy="886.1" r="5.8"/><circle cx="193.3" cy="888.0" r="5.8"/><circle cx="208.6" cy="887.0" r="5.8"/><circle cx="222.1" cy="883.2" r="5.8"/><circle cx="219.8" cy="889.0" r="5.8"/><circle cx="204.8" cy="895.7" r="5.8"/><circle cx="171.2" cy="899.5" r="5.8"/><circle cx="181.8" cy="899.5" r="5.8"/><circle cx="134.1" cy="902.4" r="5.8"/><circle cx="202.9" cy="903.4" r="5.8"/><circle cx="146.2" cy="909.5" r="5.8"/><circle cx="153.0" cy="908.2" r="5.8"/><circle cx="137.6" cy="911.4" r="5.8"/><circle cx="156.8" cy="914.9" r="5.8"/><circle cx="166.4" cy="913.9" r="5.8"/><circle cx="184.6" cy="920.6" r="5.8"/><circle cx="179.8" cy="915.8" r="5.8"/><circle cx="206.7" cy="917.8" r="5.8"/><circle cx="212.5" cy="916.8" r="5.8"/><circle cx="222.1" cy="918.7" r="5.8"/><circle cx="135.7" cy="926.4" r="5.8"/><circle cx="202.9" cy="927.4" r="5.8"/><circle cx="216.3" cy="931.2" r="5.8"/><circle cx="207.7" cy="932.2" r="5.8"/><circle cx="145.3" cy="935.0" r="5.8"/><circle cx="136.6" cy="936.0" r="5.8"/><circle cx="185.6" cy="940.8" r="5.8"/><circle cx="139.1" cy="949.1" r="5.8"/><circle cx="192.7" cy="950.4" r="5.8"/><circle cx="215.0" cy="950.8" r="5.8"/><circle cx="155.8" cy="958.5" r="5.8"/><circle cx="192.7" cy="1014.7" r="5.8"/></g>
<g fill="#0069db"><circle cx="346.1" cy="765.3" r="5.8"/><circle cx="392.9" cy="803.7" r="5.8"/><circle cx="365.5" cy="805.1" r="5.8"/><circle cx="359.0" cy="809.0" r="5.8"/><circle cx="329.4" cy="819.2" r="5.8"/><circle cx="349.3" cy="832.5" r="5.8"/><circle cx="364.3" cy="833.0" r="5.8"/><circle cx="397.8" cy="831.3" r="5.8"/><circle cx="391.7" cy="836.9" r="5.8"/><circle cx="319.1" cy="855.7" r="5.8"/><circle cx="355.0" cy="853.8" r="5.8"/><circle cx="381.8" cy="853.8" r="5.8"/><circle cx="397.8" cy="865.9" r="5.8"/><circle cx="394.9" cy="870.7" r="5.8"/><circle cx="324.8" cy="874.6" r="5.8"/><circle cx="333.5" cy="874.6" r="5.8"/><circle cx="385.3" cy="874.9" r="5.8"/><circle cx="392.0" cy="877.4" r="5.8"/><circle cx="320.0" cy="881.3" r="5.8"/><circle cx="402.6" cy="887.0" r="5.8"/><circle cx="333.5" cy="893.8" r="5.8"/><circle cx="342.1" cy="893.8" r="5.8"/><circle cx="354.6" cy="891.8" r="5.8"/><circle cx="359.4" cy="897.6" r="5.8"/><circle cx="368.0" cy="894.7" r="5.8"/><circle cx="375.7" cy="895.7" r="5.8"/><circle cx="383.4" cy="897.6" r="5.8"/><circle cx="392.0" cy="899.5" r="5.8"/><circle cx="373.8" cy="902.4" r="5.8"/><circle cx="394.9" cy="906.2" r="5.8"/><circle cx="364.2" cy="909.1" r="5.8"/><circle cx="342.1" cy="912.0" r="5.8"/><circle cx="316.2" cy="913.9" r="5.8"/><circle cx="324.8" cy="912.6" r="5.8"/><circle cx="389.1" cy="917.8" r="5.8"/><circle cx="396.8" cy="918.7" r="5.8"/><circle cx="399.7" cy="924.5" r="5.8"/><circle cx="368.0" cy="923.5" r="5.8"/><circle cx="375.7" cy="924.9" r="5.8"/><circle cx="362.3" cy="926.8" r="5.8"/><circle cx="314.6" cy="928.3" r="5.8"/><circle cx="342.1" cy="930.2" r="5.8"/><circle cx="395.9" cy="928.3" r="5.8"/><circle cx="392.6" cy="938.5" r="5.8"/><circle cx="355.9" cy="955.8" r="5.8"/></g>
<g stroke="#262626" stroke-width="7" fill="none">
<rect x="89.2" y="735.7" width="360.9" height="297.0"/>
<path d="M179.4 735.7 v6.7 M179.4 1032.7 v-6.7 M359.9 735.7 v6.7 M359.9 1032.7 v-6.7 M89.2 795.1 h7 M450.1 795.1 h-7 M89.2 854.5 h7 M450.1 854.5 h-7 M89.2 913.9 h7 M450.1 913.9 h-7 M89.2 973.3 h7 M450.1 973.3 h-7"/>
</g>
<path d="M89.2 913.9 H450.1" stroke="#000" stroke-opacity="0.6" stroke-width="7.6" stroke-dasharray="22.2 22.2" fill="none"/>
<path d="M134.2 911 H224.6" stroke="#000" stroke-width="7.2" fill="none"/>
<path d="M179.4 902.8 V919.2" stroke="#000" stroke-width="5.8" fill="none"/>
<path d="M314.7 885.1 H405.1" stroke="#000" stroke-width="7.2" fill="none"/>
<path d="M359.9 876.2 V894.0" stroke="#000" stroke-width="5.8" fill="none"/>
<g font-size="29.7" fill="#262626">
<text x="82.7" y="745.7" text-anchor="end">3</text>
<text x="82.7" y="805.1" text-anchor="end">2</text>
<text x="82.7" y="864.5" text-anchor="end">1</text>
<text x="82.7" y="923.9" text-anchor="end">0</text>
<text x="82.7" y="983.3" text-anchor="end">-1</text>
<text x="82.7" y="1042.7" text-anchor="end">-2</text>
<text x="116.4" y="1062.4">Minocycline</text>
<text x="311.7" y="1062.4">Placebo</text>
<text transform="translate(38.3 866.2) rotate(-90)" text-anchor="middle">FPS CS+ - CS- (a.u.)</text>
</g>
<text x="274.5" y="714.9" font-size="29.7" text-anchor="middle" fill="#000">first subset</text>
<text x="8.4" y="660.6" font-size="29.7" font-weight="bold" fill="#000">B.</text>
<g fill="#ff69b4"><circle cx="615.0" cy="828.2" r="5.8"/><circle cx="625.4" cy="850.0" r="5.8"/><circle cx="617.4" cy="874.0" r="5.8"/><circle cx="647.5" cy="878.8" r="5.8"/><circle cx="612.6" cy="882.6" r="5.8"/><circle cx="615.4" cy="895.1" r="5.8"/><circle cx="624.1" cy="897.0" r="5.8"/><circle cx="632.2" cy="893.8" r="5.8"/><circle cx="628.9" cy="900.9" r="5.8"/><circle cx="599.1" cy="906.6" r="5.8"/><circle cx="663.8" cy="901.5" r="5.8"/><circle cx="611.6" cy="908.6" r="5.8"/><circle cx="619.3" cy="911.4" r="5.8"/><circle cx="625.0" cy="913.4" r="5.8"/><circle cx="672.1" cy="909.5" r="5.8"/><circle cx="642.3" cy="913.4" r="5.8"/><circle cx="652.9" cy="913.4" r="5.8"/><circle cx="662.5" cy="914.3" r="5.8"/><circle cx="671.1" cy="916.2" r="5.8"/><circle cx="591.1" cy="920.1" r="5.8"/><circle cx="607.8" cy="921.0" r="5.8"/><circle cx="618.3" cy="917.2" r="5.8"/><circle cx="643.3" cy="919.1" r="5.8"/><circle cx="657.7" cy="929.7" r="5.8"/><circle cx="649.0" cy="927.8" r="5.8"/><circle cx="598.2" cy="938.7" r="5.8"/><circle cx="611.6" cy="939.3" r="5.8"/><circle cx="619.3" cy="934.5" r="5.8"/><circle cx="626.0" cy="934.5" r="5.8"/><circle cx="618.3" cy="946.0" r="5.8"/><circle cx="635.6" cy="940.2" r="5.8"/><circle cx="643.3" cy="940.2" r="5.8"/><circle cx="638.5" cy="947.9" r="5.8"/><circle cx="649.0" cy="945.0" r="5.8"/><circle cx="652.9" cy="953.7" r="5.8"/><circle cx="659.6" cy="954.6" r="5.8"/><circle cx="667.3" cy="955.2" r="5.8"/><circle cx="593.0" cy="961.8" r="5.8"/><circle cx="612.6" cy="965.8" r="5.8"/><circle cx="644.8" cy="966.2" r="5.8"/><circle cx="650.0" cy="963.3" r="5.8"/><circle cx="659.6" cy="964.6" r="5.8"/><circle cx="650.0" cy="985.4" r="5.8"/><circle cx="599.5" cy="993.6" r="5.8"/><circle cx="589.9" cy="999.8" r="5.8"/></g>
<g fill="#0069db"><circle cx="834.5" cy="748.4" r="5.8"/><circle cx="801.1" cy="797.4" r="5.8"/><circle cx="802.3" cy="817.2" r="5.8"/><circle cx="790.6" cy="820.4" r="5.8"/><circle cx="823.1" cy="838.6" r="5.8"/><circle cx="855.2" cy="843.0" r="5.8"/><circle cx="770.0" cy="852.9" r="5.8"/><circle cx="768.1" cy="857.7" r="5.8"/><circle cx="806.5" cy="855.8" r="5.8"/><circle cx="816.5" cy="860.0" r="5.8"/><circle cx="831.8" cy="855.8" r="5.8"/><circle cx="786.3" cy="868.2" r="5.8"/><circle cx="781.9" cy="875.0" r="5.8"/><circle cx="797.3" cy="883.2" r="5.8"/><circle cx="831.8" cy="883.0" r="5.8"/><circle cx="848.4" cy="888.4" r="5.8"/><circle cx="831.5" cy="894.5" r="5.8"/><circle cx="772.3" cy="904.7" r="5.8"/><circle cx="794.0" cy="903.8" r="5.8"/><circle cx="849.7" cy="904.7" r="5.8"/><circle cx="768.1" cy="909.5" r="5.8"/><circle cx="781.5" cy="918.2" r="5.8"/><circle cx="792.1" cy="916.2" r="5.8"/><circle cx="795.9" cy="923.9" r="5.8"/><circle cx="809.4" cy="913.4" r="5.8"/><circle cx="810.7" cy="923.9" r="5.8"/><circle cx="846.8" cy="912.4" r="5.8"/><circle cx="839.1" cy="918.2" r="5.8"/><circle cx="831.5" cy="921.0" r="5.8"/><circle cx="770.0" cy="928.7" r="5.8"/><circle cx="779.6" cy="926.8" r="5.8"/><circle cx="784.4" cy="932.6" r="5.8"/><circle cx="834.3" cy="930.6" r="5.8"/><circle cx="829.5" cy="935.4" r="5.8"/><circle cx="768.1" cy="940.2" r="5.8"/><circle cx="769.6" cy="944.1" r="5.8"/><circle cx="794.0" cy="940.2" r="5.8"/><circle cx="798.8" cy="944.1" r="5.8"/><circle cx="812.3" cy="939.3" r="5.8"/><circle cx="819.9" cy="942.2" r="5.8"/><circle cx="823.8" cy="946.0" r="5.8"/><circle cx="845.9" cy="939.9" r="5.8"/><circle cx="807.5" cy="954.3" r="5.8"/><circle cx="824.7" cy="955.2" r="5.8"/><circle cx="838.2" cy="949.5" r="5.8"/><circle cx="843.4" cy="950.8" r="5.8"/><circle cx="775.8" cy="983.4" r="5.8"/><circle cx="819.6" cy="1004.2" r="5.8"/><circle cx="797.9" cy="1023.8" r="5.8"/></g>
<g stroke="#262626" stroke-width="7" fill="none">
<rect x="542.4" y="738.2" width="360.9" height="296.6"/>
<path d="M632.6 738.2 v6.7 M632.6 1034.8 v-6.7 M813.1 738.2 v6.7 M813.1 1034.8 v-6.7 M542.4 837.1 h7 M903.3 837.1 h-7 M542.4 936.0 h7 M903.3 936.0 h-7"/>
</g>
<path d="M542.4 936 H903.3" stroke="#000" stroke-opacity="0.6" stroke-width="7.6" stroke-dasharray="22.2 22.2" fill="none"/>
<path d="M587.4 925.5 H677.8" stroke="#000" stroke-width="7.2" fill="none"/>
<path d="M632.6 917.3 V933.7" stroke="#000" stroke-width="5.8" fill="none"/>
<path d="M767.9 906.3 H858.3" stroke="#000" stroke-width="7.2" fill="none"/>
<path d="M813.1 895.8 V916.8" stroke="#000" stroke-width="5.8" fill="none"/>
<g font-size="29.7" fill="#262626">
<text x="536.2" y="748.2" text-anchor="end">2</text>
<text x="536.2" y="847.1" text-anchor="end">1</text>
<text x="536.2" y="946.0" text-anchor="end">0</text>
<text x="536.2" y="1044.8" text-anchor="end">-1</text>
<text x="569.0" y="1064.8">Minocycline</text>
<text x="765.4" y="1064.8">Placebo</text>
<text transform="translate(499 868) rotate(-90)" text-anchor="middle">FPS CS+ - CS- (a.u.)</text>
</g>
<text x="725.3" y="716.1" font-size="29.7" text-anchor="middle" fill="#000">averaged first two subsets</text>
<text x="491.6" y="660.6" font-size="29.7" font-weight="bold" fill="#000">C.</text>
<g fill="#ff69b4"><circle cx="1189.4" cy="770.2" r="5.8"/><circle cx="1223.3" cy="799.8" r="5.8"/><circle cx="1231.8" cy="823.5" r="5.8"/><circle cx="1178.7" cy="839.8" r="5.8"/><circle cx="1218.0" cy="840.3" r="5.8"/><circle cx="1243.0" cy="837.4" r="5.8"/><circle cx="1245.9" cy="850.7" r="5.8"/><circle cx="1199.8" cy="851.9" r="5.8"/><circle cx="1185.3" cy="862.9" r="5.8"/><circle cx="1203.5" cy="868.6" r="5.8"/><circle cx="1226.7" cy="867.3" r="5.8"/><circle cx="1235.4" cy="875.0" r="5.8"/><circle cx="1203.5" cy="881.5" r="5.8"/><circle cx="1216.0" cy="884.0" r="5.8"/><circle cx="1180.1" cy="893.2" r="5.8"/><circle cx="1208.9" cy="890.7" r="5.8"/><circle cx="1217.5" cy="891.7" r="5.8"/><circle cx="1223.3" cy="892.6" r="5.8"/><circle cx="1228.5" cy="894.6" r="5.8"/><circle cx="1229.4" cy="905.5" r="5.8"/><circle cx="1200.2" cy="914.7" r="5.8"/><circle cx="1209.3" cy="914.3" r="5.8"/><circle cx="1215.0" cy="933.9" r="5.8"/><circle cx="1231.4" cy="933.9" r="5.8"/><circle cx="1242.1" cy="933.9" r="5.8"/><circle cx="1172.8" cy="946.8" r="5.8"/><circle cx="1200.2" cy="950.6" r="5.8"/><circle cx="1204.1" cy="954.1" r="5.8"/><circle cx="1209.3" cy="951.2" r="5.8"/><circle cx="1242.1" cy="949.3" r="5.8"/><circle cx="1257.5" cy="954.1" r="5.8"/><circle cx="1188.7" cy="958.9" r="5.8"/><circle cx="1196.4" cy="957.0" r="5.8"/><circle cx="1232.9" cy="958.9" r="5.8"/><circle cx="1237.7" cy="960.8" r="5.8"/><circle cx="1212.7" cy="967.0" r="5.8"/><circle cx="1181.4" cy="973.3" r="5.8"/><circle cx="1226.2" cy="972.3" r="5.8"/><circle cx="1204.1" cy="983.5" r="5.8"/><circle cx="1249.6" cy="990.2" r="5.8"/><circle cx="1223.3" cy="992.5" r="5.8"/><circle cx="1187.2" cy="1005.0" r="5.8"/><circle cx="1223.3" cy="1015.5" r="5.8"/></g>
<g fill="#0069db"><circle cx="1365.9" cy="807.8" r="5.8"/><circle cx="1365.5" cy="828.9" r="5.8"/><circle cx="1383.6" cy="830.8" r="5.8"/><circle cx="1421.0" cy="830.8" r="5.8"/><circle cx="1393.8" cy="842.7" r="5.8"/><circle cx="1378.8" cy="861.9" r="5.8"/><circle cx="1391.3" cy="866.7" r="5.8"/><circle cx="1401.9" cy="861.0" r="5.8"/><circle cx="1414.3" cy="866.7" r="5.8"/><circle cx="1426.8" cy="861.9" r="5.8"/><circle cx="1430.7" cy="867.7" r="5.8"/><circle cx="1382.7" cy="871.5" r="5.8"/><circle cx="1409.5" cy="874.4" r="5.8"/><circle cx="1425.9" cy="874.4" r="5.8"/><circle cx="1378.8" cy="878.2" r="5.8"/><circle cx="1430.7" cy="883.4" r="5.8"/><circle cx="1389.8" cy="887.5" r="5.8"/><circle cx="1421.1" cy="889.8" r="5.8"/><circle cx="1394.2" cy="892.6" r="5.8"/><circle cx="1363.5" cy="905.5" r="5.8"/><circle cx="1413.4" cy="902.6" r="5.8"/><circle cx="1433.5" cy="906.1" r="5.8"/><circle cx="1439.3" cy="911.5" r="5.8"/><circle cx="1417.2" cy="912.8" r="5.8"/><circle cx="1377.5" cy="917.6" r="5.8"/><circle cx="1400.3" cy="914.7" r="5.8"/><circle cx="1442.6" cy="919.5" r="5.8"/><circle cx="1442.2" cy="925.3" r="5.8"/><circle cx="1386.9" cy="926.2" r="5.8"/><circle cx="1368.3" cy="934.9" r="5.8"/><circle cx="1380.7" cy="937.8" r="5.8"/><circle cx="1414.0" cy="951.2" r="5.8"/><circle cx="1439.9" cy="952.2" r="5.8"/><circle cx="1384.6" cy="954.1" r="5.8"/><circle cx="1395.1" cy="956.0" r="5.8"/><circle cx="1370.2" cy="958.9" r="5.8"/><circle cx="1383.6" cy="961.8" r="5.8"/><circle cx="1390.3" cy="964.6" r="5.8"/><circle cx="1359.2" cy="971.9" r="5.8"/><circle cx="1423.9" cy="995.4" r="5.8"/><circle cx="1427.8" cy="1010.7" r="5.8"/></g>
<g stroke="#262626" stroke-width="7" fill="none">
<rect x="1127.5" y="732.8" width="360.9" height="297.4"/>
<path d="M1217.7 732.8 v6.7 M1217.7 1030.2 v-6.7 M1398.2 732.8 v6.7 M1398.2 1030.2 v-6.7 M1127.5 807.2 h7 M1488.4 807.2 h-7 M1127.5 881.5 h7 M1488.4 881.5 h-7 M1127.5 955.6 h7 M1488.4 955.6 h-7"/>
</g>
<path d="M1127.5 955.4 H1488.4" stroke="#000" stroke-opacity="0.6" stroke-width="7.6" stroke-dasharray="22.2 22.2" fill="none"/>
<path d="M1172.5 913.4 H1262.9" stroke="#000" stroke-width="7.2" fill="none"/>
<path d="M1217.7 901.2 V925.6" stroke="#000" stroke-width="5.8" fill="none"/>
<path d="M1353.0 905.3 H1443.4" stroke="#000" stroke-width="7.2" fill="none"/>
<path d="M1398.2 894.5 V916.1" stroke="#000" stroke-width="5.8" fill="none"/>
<g font-size="29.7" fill="#262626">
<text x="1115.4" y="742.8" text-anchor="end">1.5</text>
<text x="1115.4" y="817.2" text-anchor="end">1</text>
<text x="1115.4" y="891.5" text-anchor="end">0.5</text>
<text x="1115.4" y="965.6" text-anchor="end">0</text>
<text x="1115.4" y="1040.2" text-anchor="end">-0.5</text>
<text x="1154.3" y="1059.7">Minocycline</text>
<text x="1350.5" y="1059.7">Placebo</text>
<text transform="translate(1054.5 879.3) rotate(-90)" text-anchor="middle">Pupil dilation CS+ - CS- (mm)</text>
</g>
<text x="1313.4" y="714.9" font-size="29.7" text-anchor="middle" fill="#000">first subset</text>
<text x="1003.5" y="660.6" font-size="29.7" font-weight="bold" fill="#000">E.</text>
<g stroke="#262626" stroke-width="7" fill="none">
<rect x="1606" y="733" width="361.0" height="296.7"/>
<path d="M1696.2 733.0 v6.7 M1696.2 1029.7 v-6.7 M1876.8 733.0 v6.7 M1876.8 1029.7 v-6.7 M1606.0 805.9 h7 M1967.0 805.9 h-7 M1606.0 878.9 h7 M1967.0 878.9 h-7 M1606.0 951.8 h7 M1967.0 951.8 h-7 M1606.0 1023.8 h7 M1967.0 1023.8 h-7"/>
</g>
<g fill="#ff69b4"><circle cx="1662.8" cy="795.9" r="5.8"/><circle cx="1685.0" cy="821.1" r="5.8"/><circle cx="1663.3" cy="826.7" r="5.8"/><circle cx="1702.9" cy="836.8" r="5.8"/><circle cx="1724.1" cy="850.1" r="5.8"/><circle cx="1675.4" cy="852.6" r="5.8"/><circle cx="1666.1" cy="857.4" r="5.8"/><circle cx="1675.9" cy="862.0" r="5.8"/><circle cx="1665.3" cy="867.5" r="5.8"/><circle cx="1697.5" cy="865.9" r="5.8"/><circle cx="1722.1" cy="868.5" r="5.8"/><circle cx="1729.2" cy="862.4" r="5.8"/><circle cx="1660.2" cy="891.5" r="5.8"/><circle cx="1693.8" cy="891.5" r="5.8"/><circle cx="1704.4" cy="899.3" r="5.8"/><circle cx="1688.9" cy="901.3" r="5.8"/><circle cx="1710.3" cy="911.5" r="5.8"/><circle cx="1652.5" cy="923.3" r="5.8"/><circle cx="1669.6" cy="922.5" r="5.8"/><circle cx="1688.9" cy="918.0" r="5.8"/><circle cx="1703.0" cy="924.9" r="5.8"/><circle cx="1707.5" cy="921.3" r="5.8"/><circle cx="1734.9" cy="924.9" r="5.8"/><circle cx="1741.4" cy="926.8" r="5.8"/><circle cx="1737.0" cy="931.7" r="5.8"/><circle cx="1660.2" cy="932.7" r="5.8"/><circle cx="1662.7" cy="936.7" r="5.8"/><circle cx="1723.7" cy="934.3" r="5.8"/><circle cx="1666.7" cy="942.6" r="5.8"/><circle cx="1705.4" cy="939.6" r="5.8"/><circle cx="1721.1" cy="941.2" r="5.8"/><circle cx="1732.5" cy="946.5" r="5.8"/><circle cx="1717.8" cy="952.4" r="5.8"/><circle cx="1714.2" cy="956.3" r="5.8"/><circle cx="1707.5" cy="958.3" r="5.8"/><circle cx="1651.9" cy="960.2" r="5.8"/><circle cx="1726.2" cy="976.0" r="5.8"/><circle cx="1720.7" cy="979.9" r="5.8"/><circle cx="1677.1" cy="982.3" r="5.8"/><circle cx="1691.2" cy="997.2" r="5.8"/><circle cx="1721.3" cy="997.6" r="5.8"/><circle cx="1651.3" cy="1029.0" r="5.8"/></g>
<g fill="#0069db"><circle cx="1875.9" cy="790.9" r="5.8"/><circle cx="1890.0" cy="810.3" r="5.8"/><circle cx="1917.5" cy="820.4" r="5.8"/><circle cx="1844.1" cy="840.0" r="5.8"/><circle cx="1847.6" cy="851.9" r="5.8"/><circle cx="1862.8" cy="851.9" r="5.8"/><circle cx="1881.4" cy="849.9" r="5.8"/><circle cx="1897.6" cy="861.0" r="5.8"/><circle cx="1917.3" cy="862.0" r="5.8"/><circle cx="1838.1" cy="870.2" r="5.8"/><circle cx="1877.0" cy="867.9" r="5.8"/><circle cx="1878.9" cy="873.8" r="5.8"/><circle cx="1874.0" cy="878.1" r="5.8"/><circle cx="1873.6" cy="888.5" r="5.8"/><circle cx="1878.0" cy="894.4" r="5.8"/><circle cx="1844.2" cy="901.7" r="5.8"/><circle cx="1859.3" cy="904.2" r="5.8"/><circle cx="1916.3" cy="897.3" r="5.8"/><circle cx="1908.4" cy="899.3" r="5.8"/><circle cx="1912.4" cy="906.2" r="5.8"/><circle cx="1913.3" cy="912.1" r="5.8"/><circle cx="1855.4" cy="916.0" r="5.8"/><circle cx="1862.2" cy="914.1" r="5.8"/><circle cx="1854.4" cy="919.0" r="5.8"/><circle cx="1863.2" cy="920.9" r="5.8"/><circle cx="1907.5" cy="920.9" r="5.8"/><circle cx="1911.8" cy="924.9" r="5.8"/><circle cx="1867.2" cy="924.9" r="5.8"/><circle cx="1853.4" cy="928.8" r="5.8"/><circle cx="1857.3" cy="931.7" r="5.8"/><circle cx="1878.9" cy="931.2" r="5.8"/><circle cx="1888.8" cy="929.2" r="5.8"/><circle cx="1855.8" cy="947.1" r="5.8"/><circle cx="1842.6" cy="950.8" r="5.8"/><circle cx="1885.8" cy="951.4" r="5.8"/><circle cx="1881.5" cy="973.6" r="5.8"/><circle cx="1840.0" cy="991.1" r="5.8"/><circle cx="1857.3" cy="993.7" r="5.8"/><circle cx="1858.3" cy="1005.9" r="5.8"/></g>
<path d="M1606 951.8 H1967" stroke="#000" stroke-opacity="0.6" stroke-width="7.6" stroke-dasharray="22.2 22.2" fill="none"/>
<path d="M1651.0 915 H1741.5" stroke="#000" stroke-width="7.2" fill="none"/>
<path d="M1696.2 904.0 V926.0" stroke="#000" stroke-width="5.8" fill="none"/>
<path d="M1831.5 904.8 H1922.0" stroke="#000" stroke-width="7.2" fill="none"/>
<path d="M1876.8 894.3 V915.3" stroke="#000" stroke-width="5.8" fill="none"/>
<g font-size="29.7" fill="#262626">
<text x="1593.2" y="743.0" text-anchor="end">1.5</text>
<text x="1593.2" y="815.9" text-anchor="end">1</text>
<text x="1593.2" y="888.9" text-anchor="end">0.5</text>
<text x="1593.2" y="961.8" text-anchor="end">0</text>
<text x="1593.2" y="1033.8" text-anchor="end">-0.5</text>
<text x="1633.2" y="1059.5">Minocycline</text>
<text x="1829.4" y="1059.5">Placebo</text>
<text transform="translate(1534.2 879) rotate(-90)" text-anchor="middle">Pupil dilation CS+ - CS- (mm)</text>
</g>
<text x="1791.6" y="715.7" font-size="29.7" text-anchor="middle" fill="#000">averaged first two subsets</text>
<text x="1486" y="660.9" font-size="29.7" font-weight="bold" fill="#000">F.</text>
</svg></body></html>
